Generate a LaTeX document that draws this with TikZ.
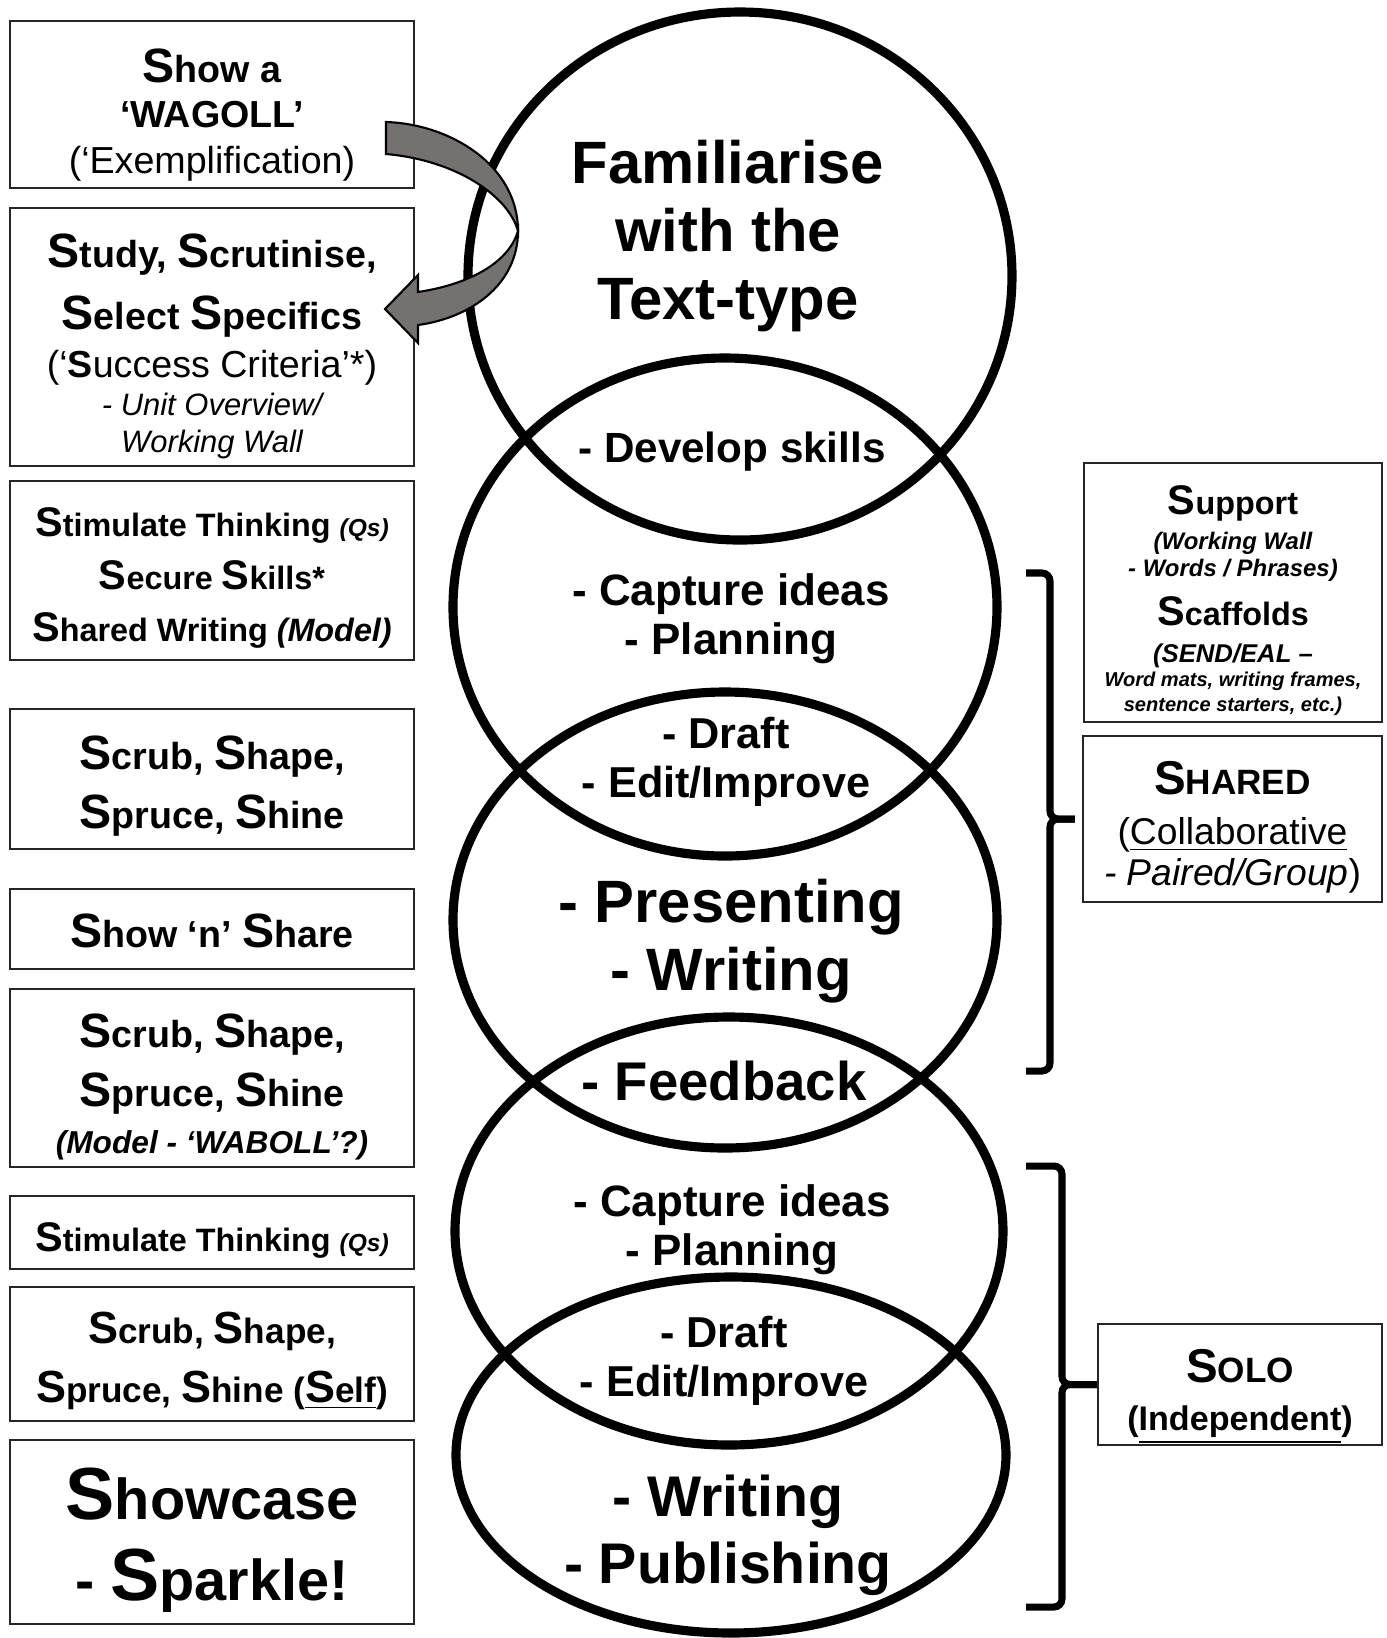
\documentclass[tikz,border=0pt]{standalone}
\usepackage{fontspec}
\setmainfont{Liberation Sans}
\definecolor{arrowgray}{RGB}{118,113,113}
\newcommand\bS{\scalebox{1.28}{S}}

\begin{document}
\begin{tikzpicture}[x=0.01cm, y=-0.01cm,
    ring/.style={line width=2.6pt},
    stage/.style={align=center},
    frame/.style={draw=black!85, line width=0.6pt, minimum width=4.04cm, inner sep=0pt},
    sideframe/.style={draw=black!85, line width=0.6pt, inner sep=0pt},
    words/.style={align=center, inner sep=0pt},
    brace/.style={line width=2pt, rounded corners=0.08cm}]
    \useasboundingbox (0,0) rectangle (1387,1638);

    % Five overlapping rings
    \draw[ring] (740,276) ellipse [x radius=272, y radius=264];
    \draw[ring] (725,607) ellipse [x radius=272, y radius=249];
    \draw[ring] (725,920) ellipse [x radius=272, y radius=228];
    \draw[ring] (729,1231) ellipse [x radius=274, y radius=214];
    \draw[ring] (731,1455) ellipse [x radius=275, y radius=178];

    % Stage labels inside the rings
    \node[stage, font=\fontsize{17}{19.3}\selectfont\bfseries] (familiarise) at (728,236) {Familiarise\\with the\\Text-type};
    \node[stage, font=\fontsize{12}{14}\selectfont\bfseries] (develop) at (732,452) {- Develop skills};
    \node[stage, font=\fontsize{12.5}{14}\selectfont\bfseries] (capture) at (731,619) {- Capture ideas\\- Planning};
    \node[stage, font=\fontsize{12.3}{14}\selectfont\bfseries] (draft) at (726,762) {- Draft\\- Edit/Improve};
    \node[stage, font=\fontsize{17}{19.3}\selectfont\bfseries] (present) at (731,941) {- Presenting\\- Writing};
    \node[stage, font=\fontsize{15.5}{17}\selectfont\bfseries] (feedback) at (724,1081) {- Feedback};
    \node[stage, font=\fontsize{12.5}{14}\selectfont\bfseries] (capturesolo) at (732,1230) {- Capture ideas\\- Planning};
    \node[stage, font=\fontsize{12.3}{14}\selectfont\bfseries] (draftsolo) at (724,1361) {- Draft\\- Edit/Improve};
    \node[stage, font=\fontsize{16.3}{19}\selectfont\bfseries] (publish) at (728,1535) {- Writing\\- Publishing};

    % Left column of steps
    \node[frame, minimum height=1.67cm] (wagoll) at (212,104.5) {};
    \node[words, font=\fontsize{10.7}{13}\selectfont\bfseries] (wagolltext) at (212,115)
      {\bS how a\\‘WAGOLL’\\{\mdseries(‘Exemplification)}};
    \node[frame, minimum height=2.58cm] (study) at (212,337) {};
    \node[words, font=\fontsize{10.7}{10.5}\selectfont\bfseries] (studytext) at (212,346)
      {\bS tudy, \bS crutinise,\\[5pt]\bS elect \bS pecifics\\[3pt]
       {\mdseries(‘{\bfseries S}uccess Criteria’*)}\\[0.3pt]
       {\mdseries\itshape\fontsize{8.8}{10}\selectfont - Unit Overview/}\\
       {\mdseries\itshape\fontsize{8.8}{10}\selectfont Working Wall}};
    \node[frame, minimum height=1.79cm] (stimulate) at (212,570.5) {};
    \node[words, font=\fontsize{9.2}{15}\selectfont\bfseries] (stimulatetext) at (212,578)
      {\bS timulate Thinking {\itshape\fontsize{7}{8}\selectfont(Qs)}\\\bS ecure \bS kills*\\\bS hared Writing {\itshape(Model)}};
    \node[frame, minimum height=1.40cm] (scrub) at (212,779) {};
    \node[words, font=\fontsize{10.7}{17}\selectfont\bfseries] (scrubtext) at (212,786)
      {\bS crub, \bS hape,\\\bS pruce, \bS hine};
    \node[frame, minimum height=0.80cm] (share) at (212,929) {};
    \node[words, font=\fontsize{10.7}{13}\selectfont\bfseries] (sharetext) at (212,931)
      {\bS how ‘n’ \bS hare};
    \node[frame, minimum height=1.78cm] (scrubmodel) at (212,1078) {};
    \node[words, font=\fontsize{10.7}{13.4}\selectfont\bfseries] (scrubmodeltext) at (212,1087)
      {\bS crub, \bS hape,\\[3.4pt]\bS pruce, \bS hine\\{\itshape\fontsize{9}{10}\selectfont(Model - ‘WABOLL’?)}};
    \node[frame, minimum height=0.73cm] (stimulatesolo) at (212,1232.5) {};
    \node[words, font=\fontsize{9.2}{13}\selectfont\bfseries] (stimulatesolotext) at (212,1240)
      {\bS timulate Thinking {\itshape\fontsize{7}{8}\selectfont(Qs)}};
    \node[frame, minimum height=1.34cm] (scrubself) at (212,1354) {};
    \node[words, font=\fontsize{10}{16.5}\selectfont\bfseries] (scrubselftext) at (212,1361)
      {\bS crub, \bS hape,\\\bS pruce, \bS hine (\underline{\bS elf})};
    \node[frame, minimum height=1.84cm] (showcase) at (212,1532) {};
    \node[words, font=\fontsize{16.4}{23}\selectfont\bfseries] (showcasetext) at (212,1540)
      {\bS howcase\\- \bS parkle!};

    % Right column
    \node[sideframe, minimum width=2.98cm, minimum height=2.59cm] (support) at (1233,592.5) {};
    \node[words, font=\fontsize{9.2}{7.1}\selectfont\bfseries] (supporttext) at (1233,600.5)
      {\bS upport\\[2.8pt]
       {\itshape\fontsize{6.8}{7}\selectfont(Working Wall}\\[0.6pt]
       {\itshape\fontsize{6.8}{7}\selectfont - Words / Phrases)}\\[3.2pt]
       \bS caffolds\\[3.5pt]
       {\itshape\fontsize{7.3}{7}\selectfont(SEND/EAL –}\\[-0.3pt]
       {\itshape\fontsize{5.7}{6}\selectfont Word mats, writing frames,}\\
       {\itshape\fontsize{5.7}{6}\selectfont sentence starters, etc.)}};
    \node[sideframe, minimum width=2.99cm, minimum height=1.66cm] (shared) at (1232.5,819) {};
    \node[words, font=\fontsize{10.6}{11.7}\selectfont] (sharedtext) at (1232.5,827)
      {{\bfseries\fontsize{13.5}{13}\selectfont S}{\bfseries\fontsize{10}{10}\selectfont HARED}\\[2.5pt]
       (\underline{Collaborative}\\{\itshape - Paired/Group})};
    \node[sideframe, minimum width=2.84cm, minimum height=1.21cm] (solo) at (1240,1384.5) {};
    \node[words, font=\fontsize{9.7}{13.4}\selectfont\bfseries] (solotext) at (1240,1397)
      {{\fontsize{13.5}{13}\selectfont S}{\fontsize{10}{10}\selectfont OLO}\\(\underline{Independent})};

    % Curved arrow from the WAGOLL box to the study box
    \fill[arrowgray, draw=black, line width=0.6pt]
      (386,122) .. controls (450,124) and (518,165) .. (518,231)
      .. controls (508,195) and (455,160) .. (386,154) -- cycle;
    \fill[arrowgray, draw=black, line width=0.6pt]
      (518,231) .. controls (518,285) and (470,318) .. (418,325)
      -- (418,343) -- (385,309) -- (418,275) -- (418,292)
      .. controls (465,285) and (508,265) .. (518,231) -- cycle;

    % Brackets grouping the rings
    \draw[brace, shorten >=2pt] (1026,573) -- (1050,573) |- (shared.west);
    \draw[brace, shorten >=2pt] (1026,1071) -- (1050,1071) |- (shared.west);
    \draw[brace] (1026,1166) -- (1062,1166) |- (solo.west);
    \draw[brace] (1026,1607) -- (1062,1607) |- (solo.west);
\end{tikzpicture}
\end{document}
